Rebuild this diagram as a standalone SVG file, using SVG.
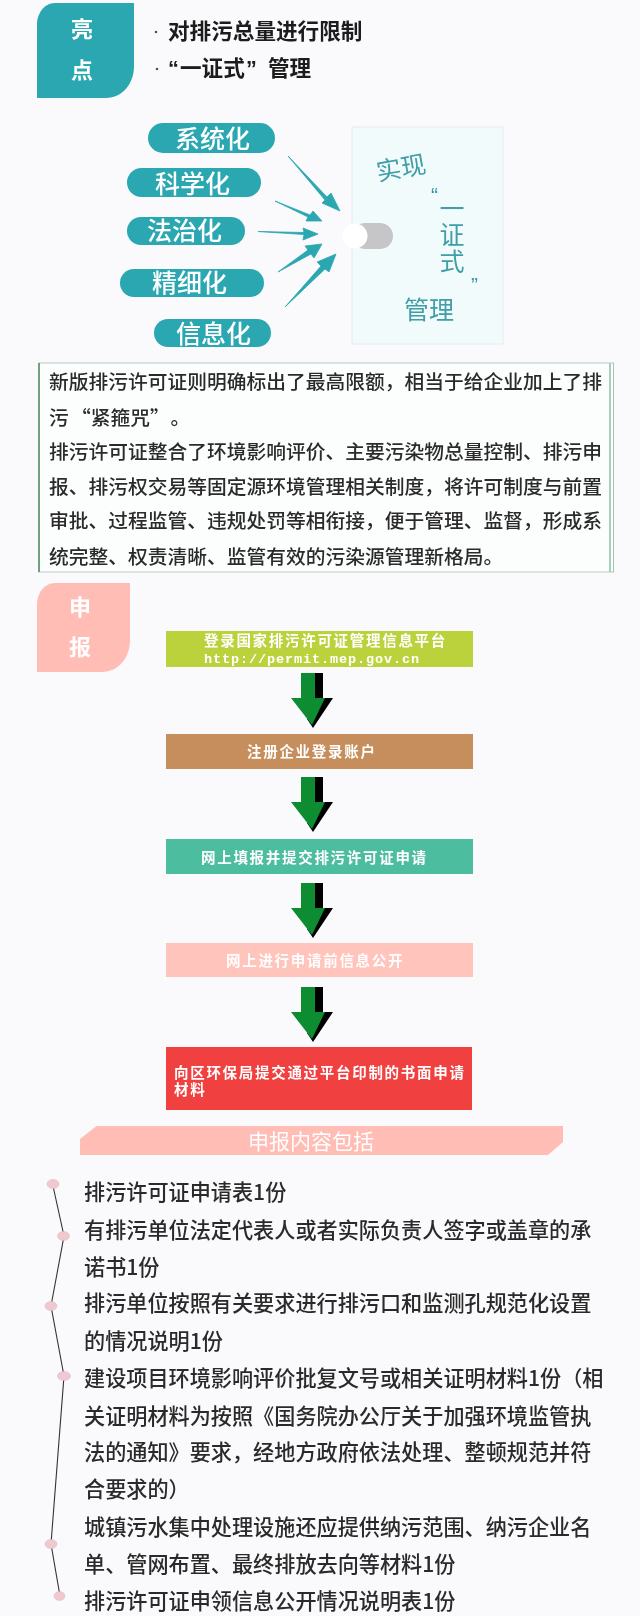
<svg xmlns="http://www.w3.org/2000/svg" width="640" height="1616" viewBox="0 0 640 1616">
<style>
text{font-family:"Noto Sans CJK SC","Liberation Sans",sans-serif}
.hd{font-size:22px;font-weight:700;fill:#fff;text-anchor:middle}
.top{font-size:21.6px;font-weight:700;fill:#1a1a1a}
.pill{fill:#2ba7b1}
.pt{font-size:25px;fill:#fff;font-weight:500}
.bt{font-size:25px;fill:#3f9ea6}
.q{font-size:21px;fill:#3a98a0;font-family:"Liberation Sans",sans-serif}
.para{font-size:19.75px;fill:#2c2c2c;font-weight:500}
.step{font-size:14.5px;font-weight:700;fill:#fff;letter-spacing:1.7px}
.li{font-size:21.15px;fill:#2a2a2a;font-weight:500}
.dot{fill:#f0c8d0;stroke:#d8b8c0;stroke-width:.5}
.ar{fill:#2ba7b1;stroke:#2ba7b1;stroke-width:.8;stroke-linejoin:round}
</style>
<defs>
<filter id="soft" x="0" y="0" width="100%" height="100%"><feGaussianBlur stdDeviation="0.4"/></filter>
<g id="down">
<path d="M24 0H32V25H42L22 55L16 46Z" fill="#000"/>
<path d="M10 0H24V25H34L21 52L0 25H10Z" fill="#0a8c33"/>
</g>
</defs>
<rect width="640" height="1616" fill="#fafafc"/>
<g filter="url(#soft)">
<g id="node-liangdian">
<path d="M55 3H134V66C134 84 122 98 106 98H37V24C37 14 44 3 55 3Z" fill="#2ba7b1"/>
<text class="hd" x="82" y="37">亮</text>
<text class="hd" x="82" y="78">点</text>
</g>
<g id="node-points">
<circle cx="156" cy="32" r="1.3" fill="#555"/>
<circle cx="157" cy="69" r="1.3" fill="#555"/>
<text class="top" x="168" y="39">对排污总量进行限制</text>
<text class="top" y="76"><tspan x="168" style="font-family:'Liberation Sans',sans-serif">“</tspan><tspan x="180">一证式</tspan><tspan x="246" style="font-family:'Liberation Sans',sans-serif">”</tspan><tspan x="268">管理</tspan></text>
</g>
<g id="node-xitong"><rect class="pill" x="148" y="123" width="127" height="30" rx="15"/><text class="pt" x="175" y="148">系统化</text></g>
<g id="node-kexue"><rect class="pill" x="127" y="168" width="134" height="29" rx="14.5"/><text class="pt" x="155" y="193">科学化</text></g>
<g id="node-fazhi"><rect class="pill" x="127" y="217" width="118" height="28" rx="14"/><text class="pt" x="147" y="240">法治化</text></g>
<g id="node-jingxi"><rect class="pill" x="120" y="269" width="144" height="28" rx="14"/><text class="pt" x="152" y="292">精细化</text></g>
<g id="node-xinxi"><rect class="pill" x="154" y="319" width="117" height="28" rx="14"/><text class="pt" x="176" y="343">信息化</text></g>
<g id="node-guanli">
<rect x="352" y="127" width="151" height="217" fill="#f2fbfc" stroke="#e6eaec"/>
<rect x="352" y="223" width="41" height="26" rx="13" fill="#c6c6c8"/>
<circle cx="355" cy="236" r="12.5" fill="#fff"/>
<text class="bt" transform="translate(378,181) rotate(-10)">实现</text>
<text class="q" x="431" y="202">“</text>
<text class="bt" x="452" y="195.500" style="writing-mode:vertical-rl;letter-spacing:1.6px">一证式</text>
<text class="q" x="471" y="292">”</text>
<text class="bt" x="404" y="319">管理</text>
</g>
<g id="connectors">
<path class="ar" d="M288 156L327 197L331 193L340 211L322 203L325 200Z"/>
<path class="ar" d="M275 201L310 215L313 211L322 221L306 221L308 217Z"/>
<path class="ar" d="M258 231.500L304 232.500L303 228L318 234L303 240L304 234.500Z"/>
<path class="ar" d="M278 272L308 250L305 246L322 244L314 258L311 254Z"/>
<path class="ar" d="M285 307L321 266L317 262L336 254L329 272L325 269Z"/>
<use href="#down" x="291" y="673"/>
<use href="#down" x="291" y="777"/>
<use href="#down" x="291" y="883"/>
<use href="#down" x="291" y="987"/>
<path d="M53 1186L64 1236L51 1306L64 1376L51 1544L60 1596" fill="none" stroke="#333" stroke-width="1.100"/>
</g>
<g id="node-intro">
<rect x="39" y="363" width="575" height="209" fill="#fcfdfd" stroke="#bcc8c4"/>
<path d="M39 363V572" stroke="#4c8a5c" stroke-width="1.500"/>
<path d="M610 363V572" stroke="#a8d0b8" stroke-width="2"/>
<path d="M614 363V572" stroke="#6fa888" stroke-width="1"/>
<text class="para" x="49" y="389">新版排污许可证则明确标出了最高限额，相当于给企业加上了排</text>
<text class="para" y="425"><tspan x="49">污</tspan><tspan x="71">“紧箍咒”</tspan><tspan x="170.500">。</tspan></text>
<text class="para" x="49" y="459">排污许可证整合了环境影响评价、主要污染物总量控制、排污申</text>
<text class="para" x="49" y="494">报、排污权交易等固定源环境管理相关制度，将许可制度与前置</text>
<text class="para" x="49" y="528">审批、过程监管、违规处罚等相衔接，便于管理、监督，形成系</text>
<text class="para" x="49" y="564">统完整、权责清晰、监管有效的污染源管理新格局。</text>
</g>
<g id="node-shenbao">
<path d="M55 583H130V640C130 658 118 672 102 672H37V604C37 594 44 583 55 583Z" fill="#ffbdb5"/>
<text class="hd" x="80" y="615">申</text>
<text class="hd" x="80" y="655">报</text>
</g>
<g id="node-step1">
<rect x="166" y="631" width="307" height="36" fill="#bcd23c"/>
<text class="step" x="204" y="646">登录国家排污许可证管理信息平台</text>
<text x="204" y="663" font-size="13.500" font-weight="700" fill="#fff" style="font-family:'Liberation Mono',monospace" letter-spacing="0.900">http://permit.mep.gov.cn</text>
</g>
<g id="node-step2"><rect x="166" y="734" width="307" height="35" fill="#c68e5c"/><text class="step" x="247" y="757">注册企业登录账户</text></g>
<g id="node-step3"><rect x="166" y="839" width="307" height="35" fill="#4dbd9f"/><text class="step" x="201" y="863">网上填报并提交排污许可证申请</text></g>
<g id="node-step4"><rect x="166" y="943" width="307" height="34" fill="#ffc4bc"/><text class="step" x="226" y="966">网上进行申请前信息公开</text></g>
<g id="node-step5"><rect x="166" y="1047" width="306" height="63" fill="#f04040"/><text class="step"><tspan x="174" y="1078">向区环保局提交通过平台印制的书面申请</tspan><tspan x="174" y="1095">材料</tspan></text></g>
<g id="node-banner">
<path d="M96.500 1126H563V1142L548 1155H80V1139Z" fill="#ffbdb5"/>
<text x="248" y="1149" font-size="21" fill="#fff">申报内容包括</text>
</g>
<g id="node-list">
<ellipse class="dot" cx="53" cy="1184" rx="6" ry="4.500"/>
<ellipse class="dot" cx="63.500" cy="1236" rx="6" ry="4.500"/>
<ellipse class="dot" cx="51" cy="1306" rx="6" ry="4.500"/>
<ellipse class="dot" cx="64" cy="1376" rx="6.500" ry="4.500"/>
<ellipse class="dot" cx="51" cy="1544" rx="6" ry="4.500"/>
<ellipse class="dot" cx="59.500" cy="1596" rx="5.500" ry="4.500"/>
<text class="li" x="84" y="1200">排污许可证申请表1份</text>
<text class="li" x="84" y="1238">有排污单位法定代表人或者实际负责人签字或盖章的承</text>
<text class="li" x="84" y="1275">诺书1份</text>
<text class="li" x="84" y="1311">排污单位按照有关要求进行排污口和监测孔规范化设置</text>
<text class="li" x="84" y="1349">的情况说明1份</text>
<text class="li" x="84" y="1386">建设项目环境影响评价批复文号或相关证明材料1份（相</text>
<text class="li" x="84" y="1424">关证明材料为按照《国务院办公厅关于加强环境监管执</text>
<text class="li" x="84" y="1460">法的通知》要求，经地方政府依法处理、整顿规范并符</text>
<text class="li" x="84" y="1497">合要求的）</text>
<text class="li" x="84" y="1535">城镇污水集中处理设施还应提供纳污范围、纳污企业名</text>
<text class="li" x="84" y="1572">单、管网布置、最终排放去向等材料1份</text>
<text class="li" x="84" y="1609">排污许可证申领信息公开情况说明表1份</text>
</g>
</g>
</svg>
